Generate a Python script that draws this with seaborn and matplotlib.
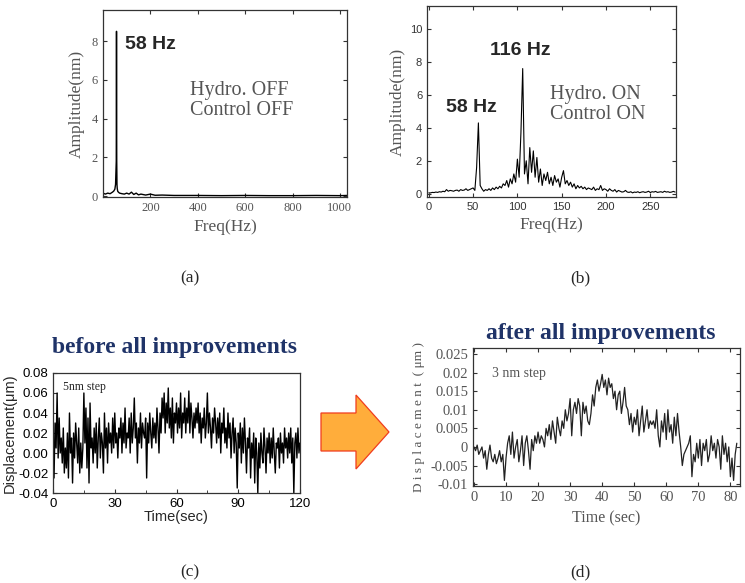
import numpy as np
import pandas as pd
import matplotlib
matplotlib.use("Agg")
import matplotlib.pyplot as plt
from matplotlib.patches import Polygon
import seaborn as sns

# --- data ---
# (a) spectrum, Hydro OFF / Control OFF
freq_a = [0, 10, 20, 30, 40, 45, 50, 53, 56, 57, 58, 59, 60, 62, 65, 70, 80, 90, 100, 110,
          120, 130, 140, 150, 160, 180, 200, 220, 250, 300, 400, 500, 600, 700, 800, 900, 1000, 1030]
amp_a = [0.15, 0.1, 0.15, 0.12, 0.2, 0.25, 0.35, 0.6, 1.8, 8.5, 1.8, 0.6, 0.4, 0.25, 0.2, 0.15, 0.12, 0.1, 0.15, 0.1,
         0.2, 0.08, 0.15, 0.06, 0.1, 0.05, 0.1, 0.04, 0.05, 0.03, 0.03, 0.02, 0.03, 0.02, 0.02, 0.03, 0.02, 0.03]

# (b) spectrum, Hydro ON / Control ON, 2 Hz bins from 0 Hz
amp_b = [0.05, 0.05, 0.08, 0.07, 0.1, 0.08, 0.12, 0.1, 0.15, 0.12,
         0.25, 0.15, 0.2, 0.18, 0.15, 0.2, 0.22, 0.15, 0.25, 0.2,
         0.22, 0.3, 0.2, 0.25, 0.3, 0.35, 0.2, 1.6, 4.3, 0.5,
         0.3, 0.15, 0.25, 0.2, 0.3, 0.2, 0.35, 0.25, 0.4, 0.3,
         0.45, 0.35, 0.6, 0.5, 0.8, 0.4, 0.9, 0.6, 1.2, 0.7,
         2.1, 1.0, 3.7, 7.6, 1.2, 2.0, 0.6, 2.8, 1.3, 2.6,
         1.0, 2.2, 0.7, 1.5, 0.5, 1.2, 0.8, 1.3, 0.6, 1.0,
         0.5, 1.1, 0.7, 0.9, 0.4, 1.0, 1.4, 0.6, 0.8, 0.5,
         0.7, 0.4, 0.6, 0.3, 0.5, 0.35, 0.45, 0.3, 0.4, 0.25,
         0.35, 0.3, 0.25, 0.4, 0.2, 0.3, 0.25, 0.5, 0.2, 0.3,
         0.25, 0.15, 0.3, 0.2, 0.15, 0.25, 0.1, 0.2, 0.15, 0.1,
         0.12, 0.2, 0.1, 0.08, 0.12, 0.05, 0.1, 0.08, 0.12, 0.06,
         0.1, 0.12, 0.08, 0.1, 0.15, 0.07, 0.12, 0.1, 0.14, 0.08,
         0.1, 0.12, 0.08, 0.15, 0.1, 0.12, 0.08, 0.1, 0.14, 0.1]
freq_step_b = 2.0

# (c) displacement before improvements, nm, every 0.5 s
disp_c_nm = [20, -25, 30, 5, 60, -5, 35, 0, 15, -10,
             25, -20, 5, -15, 20, -25, 40, 0, 15, -30,
             20, -5, 30, 10, -10, 25, -20, 10, -15, 5,
             60, 10, 45, -15, 35, -30, 50, 5, 15, -10,
             25, 0, 30, -15, 15, 35, -5, 20, 10, -20,
             40, 5, 25, -10, 30, 10, 20, 0, 35, 5,
             40, 10, 20, -5, 25, 15, 35, 0, 30, 10,
             45, 5, 20, 15, 35, 0, 40, 10, 25, 55,
             15, 30, -10, 25, 10, 40, 5, 30, 20, 15,
             35, -25, 30, 10, 40, 20, 5, 35, 15, 30,
             10, 45, 25, 0, 40, 20, 55, 35, 60, 20,
             50, 30, 65, 25, 45, 15, 55, 10, 40, 30,
             50, 20, 45, 25, 60, 15, 40, 30, 55, 20,
             45, 30, 62, 20, 50, 35, 15, 40, 25, 45,
             30, 50, 20, 40, 10, 35, 25, 45, 15, 30,
             60, 20, 40, 25, 5, 35, 20, 45, 30, 10,
             35, 15, 40, 0, 30, 20, 45, 10, 25, 5,
             40, 15, 30, -5, 20, 35, 0, 25, 10, -35,
             20, 5, 30, -10, 25, 0, 35, 10, -20, 15,
             5, 25, -25, 10, -5, 20, -30, 15, 0, -40,
             10, -15, 20, 0, -10, 25, 5, -20, 15, 0,
             20, -10, 15, -5, 25, 0, -20, 10, 5, 15,
             -15, 20, 0, 10, -10, 25, 5, 15, -5, 20,
             0, 25, -10, 15, -40, 10, 20, -5, 25, 0,
             10]
dt_c = 0.5

# (d) displacement after improvements, nm, every 0.5 s
disp_d_nm = [0, -1, 0.5, -2, -1, 0, -3, -1, -6, -2,
             0.5, -3, -4, -2, -4.5, -3, -1, -4, -2, -9,
             -3, 1, 3, -2, 4, -3, 0, 2, -4, -1,
             3, -5, 1, 3, -1, -6, 2, -1, 3, 1,
             4, 1, 3, 2, 0, 5, 3, 6, 2, 7,
             4, 1, 8, 5, 3, 7, 5, 10, 7, 9,
             13, 3, 10, 12, 9, 13, 11, 3, 12, 9,
             11, 7, 6, 9, 14, 11, 16, 18, 15, 17,
             19.5, 16, 18, 14, 18.5, 16, 17, 13, 15, 10,
             14, 15, 9, 12, 16, 11, 10, 6, 9, 4,
             8, 6, 10, 3, 7, 11, 4, 7, 10, 5,
             7, 6, 7, 5, 10, 3, 0, 7, 4, 9,
             2, 10, 4, 6, 1, 8, 3, 9, 4, 0,
             -5, -2, -1, 0, 1, 3, -8, -2, -4, 1,
             -3, 2, -5, 1, -1, 2, -4, -2, 3, -1,
             1, -3, 2, 0, -6, 3, -2, 1, -4, 0,
             -8, -3, -9, -2, 1]
dt_d = 0.5

c_yticks = [-0.04, -0.02, 0.0, 0.02, 0.04, 0.06, 0.08]
c_ylabels = ["-0.04", "-0.02", "0.00", "0.02", "0.04", "0.06", "0.08"]
d_yticks = [-0.01, -0.005, 0, 0.005, 0.01, 0.015, 0.02, 0.025]
d_ylabels = ["-0.01", "-0.005", "0", "0.005", "0.01", "0.015", "0.02", "0.025"]

df_a = pd.DataFrame({"f": freq_a, "amp": amp_a})
df_b = pd.DataFrame({"f": np.arange(len(amp_b)) * freq_step_b, "amp": amp_b})
df_c = pd.DataFrame({"t": np.arange(len(disp_c_nm)) * dt_c, "d": np.array(disp_c_nm) / 1000})
df_d = pd.DataFrame({"t": np.arange(len(disp_d_nm)) * dt_d, "d": np.array(disp_d_nm) / 1000})

sns.set_style("ticks")
plt.rcParams["font.family"] = ["Liberation Serif", "DejaVu Serif"]

W, H = 745, 583
fig = plt.figure(figsize=(W / 100, H / 100), dpi=100)


def px_axes(l, t, r, b):
    return fig.add_axes([l / W, 1 - b / H, (r - l) / W, (b - t) / H])


def ftext(x, y, s, **kw):
    fig.text(x / W, 1 - y / H, s, **kw)


GRAY = "#555555"
NAVY = "#1f3368"
SERIF = ["Liberation Serif", "DejaVu Serif"]
SANS = ["Liberation Sans", "DejaVu Sans"]


def style_box(ax, color, labsize, family):
    for sp in ax.spines.values():
        sp.set_color("#333333")
        sp.set_linewidth(0.9)
    ax.tick_params(direction="in", top=True, right=True, length=3, width=0.8,
                   labelsize=labsize, labelcolor=color, colors="#333333")
    for lab in ax.get_xticklabels() + ax.get_yticklabels():
        lab.set_family(family)
        lab.set_color(color)


# --- (a) ---
ax = px_axes(103, 10, 347, 197)
sns.lineplot(data=df_a, x="f", y="amp", ax=ax, color="black", linewidth=1.0)
ax.set_xlim(0, 1030)
ax.set_ylim(-0.05, 9.6)
ax.set_xticks([200, 400, 600, 800, 1000])
ax.set_yticks([0, 2, 4, 6, 8])
ax.set_xlabel("Freq(Hz)", color=GRAY, fontsize=12.5, labelpad=4)
ax.set_ylabel("Amplitude(nm)", color=GRAY, fontsize=12.5, labelpad=5)
style_box(ax, GRAY, 9, SERIF)
ax.text(0.09, 0.79, "58 Hz", transform=ax.transAxes, fontsize=14, fontweight="bold",
        family=SANS)
ax.text(0.355, 0.44, "Hydro. OFF\nControl OFF", transform=ax.transAxes, fontsize=14.5,
        color=GRAY, linespacing=1.05)

# --- (b) ---
ax = px_axes(427, 6, 676, 197)
sns.lineplot(data=df_b, x="f", y="amp", ax=ax, color="black", linewidth=0.8)
ax.set_xlim(-2, 279)
ax.set_ylim(-0.2, 11.4)
ax.set_xticks([0, 50, 100, 150, 200, 250])
ax.set_yticks([0, 2, 4, 6, 8, 10])
ax.set_xlabel("Freq(Hz)", color=GRAY, fontsize=12.5, labelpad=4)
ax.set_ylabel("Amplitude(nm)", color=GRAY, fontsize=12.5, labelpad=3)
style_box(ax, "#333333", 8, SANS)
ax.text(0.255, 0.745, "116 Hz", transform=ax.transAxes, fontsize=14, fontweight="bold",
        family=SANS)
ax.text(0.075, 0.445, "58 Hz", transform=ax.transAxes, fontsize=14, fontweight="bold",
        family=SANS)
ax.text(0.495, 0.41, "Hydro. ON\nControl ON", transform=ax.transAxes, fontsize=14.5,
        color=GRAY, linespacing=1.05)

# --- (c) ---
ax = px_axes(53, 373, 300, 493)
sns.lineplot(data=df_c, x="t", y="d", ax=ax, color="black", linewidth=1.0)
ax.set_xlim(0, 120)
ax.set_ylim(-0.04, 0.08)
ax.set_xticks([0, 30, 60, 90, 120])
ax.set_xticks([15, 45, 75, 105], minor=True)
ax.set_yticks(c_yticks)
ax.set_yticklabels(c_ylabels)
ax.set_xlabel("Time(sec)", fontsize=10.5, family=SANS, labelpad=0)
ax.set_ylabel("Displacement(\u03bcm)", fontsize=10.5, family=SANS, labelpad=1)
style_box(ax, "black", 9.5, SANS)
ax.tick_params(top=False, right=False)
ax.tick_params(which="minor", direction="in", length=2, bottom=True)
ax.text(0.04, 0.86, "5nm step", transform=ax.transAxes, fontsize=8.5)
ftext(174, 347, "before all improvements", ha="center", va="center", fontsize=17,
      fontweight="bold", color=NAVY)

# --- (d) ---
ax = px_axes(473, 348, 740, 486)
sns.lineplot(data=df_d, x="t", y="d", ax=ax, color="#222222", linewidth=0.9)
ax.set_xlim(-0.3, 83)
ax.set_ylim(-0.0105, 0.0266)
ax.set_xticks(np.arange(0, 81, 10))
ax.set_yticks(d_yticks)
ax.set_yticklabels(d_ylabels)
ax.set_xlabel("Time (sec)", color=GRAY, fontsize=11.5, labelpad=5)
ax.set_ylabel("D i s p l a c e m e n t  ( \u03bcm )", color=GRAY, fontsize=9.5, labelpad=4)
style_box(ax, GRAY, 10.5, SERIF)
ax.text(0.07, 0.79, "3 nm step", transform=ax.transAxes, fontsize=10, color=GRAY)
ftext(601, 334, "after all improvements", ha="center", va="center", fontsize=17,
      fontweight="bold", color=NAVY)

# panel letters
for x, y, s in [(190, 278, "(a)"), (580, 278, "(b)"), (190, 572, "(c)"), (580, 572, "(d)")]:
    ftext(x, y, s, ha="center", va="center", fontsize=12.5)

# arrow between (c) and (d)
arrow_px = [(321, 413), (356, 413), (356, 395), (389, 432), (356, 469), (356, 451), (321, 451)]
arrow = Polygon([(x / W, 1 - y / H) for x, y in arrow_px], closed=True,
                transform=fig.transFigure, facecolor="#ffad3b", edgecolor="#f03c1e", linewidth=0.9)
fig.patches.append(arrow)

fig.savefig("out.png", dpi=100)
